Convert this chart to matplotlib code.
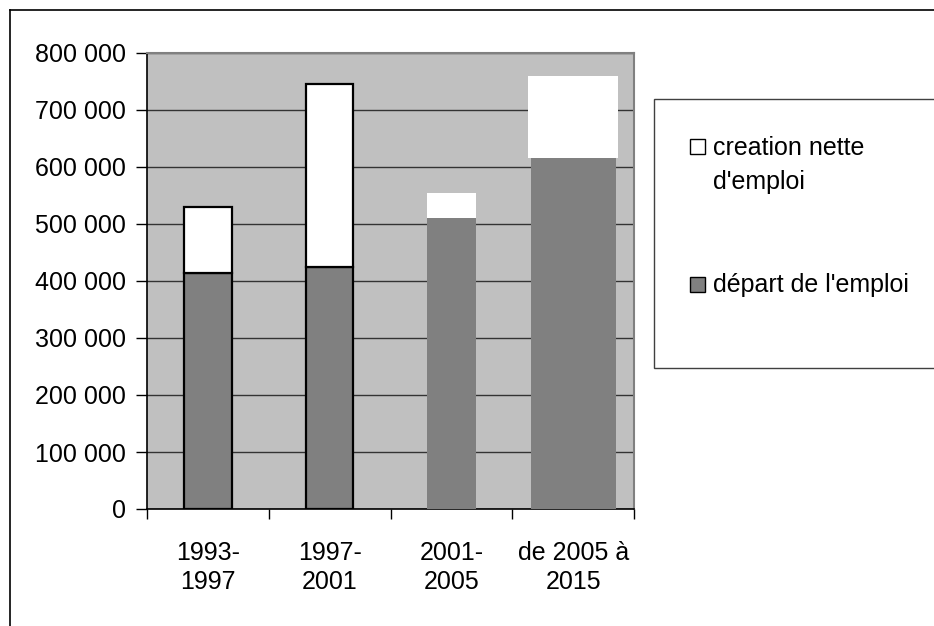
import matplotlib

matplotlib.use("Agg")
import matplotlib.pyplot as plt
from matplotlib.lines import Line2D
from matplotlib.patches import Rectangle

plt.rcParams["font.family"] = ["Liberation Sans", "DejaVu Sans"]

periods = ["1993-\n1997", "1997-\n2001", "2001-\n2005", "de 2005 à\n2015"]
depart = [414000, 425000, 510000, 616000]
creation = [116000, 320000, 44000, 144000]
series_labels = ["creation nette\nd'emploi", "départ de l'emploi"]
yticks = [0, 100000, 200000, 300000, 400000, 500000, 600000, 700000, 800000]

W, H = 934, 626
fig = plt.figure(figsize=(W / 100, H / 100), dpi=100)
ax = fig.add_axes([147 / W, 1 - 509 / H, (634 - 147) / W, (509 - 53) / H])


def px(x, y):
    return x / W, 1 - y / H


gray = "#808080"
# first two bars drawn with black outlines, last two without
widths_dep = [0.39, 0.39, 0.40, 0.70]
widths_cre = [0.39, 0.39, 0.40, 0.74]
edges = ["black", "black", "none", "none"]
x = list(range(len(periods)))
for i in x:
    lw = 1.6 if edges[i] != "none" else 0
    ax.bar(i, depart[i], width=widths_dep[i], color=gray, edgecolor=edges[i], linewidth=lw, zorder=3)
    ax.bar(i, creation[i], bottom=depart[i], width=widths_cre[i], color="white",
           edgecolor=edges[i], linewidth=lw, zorder=3)

ax.set_facecolor("#c0c0c0")
ax.set_xlim(-0.5, 3.5)
ax.set_ylim(0, 800000)
ax.set_yticks(yticks)
ax.set_yticklabels([f"{v:,}".replace(",", " ") for v in yticks])
ax.yaxis.grid(True, color="#333333", linewidth=1.0, zorder=1)
ax.set_axisbelow(True)

ax.set_xticks(x)
ax.set_xticklabels(periods, linespacing=1.25)
ax.set_xticks([-0.5, 0.5, 1.5, 2.5, 3.5], minor=True)
ax.tick_params(axis="x", which="major", length=0, pad=23, labelsize=18)
ax.tick_params(axis="x", which="minor", length=7, width=1, direction="out", color="black")
ax.tick_params(axis="y", length=8, width=1, direction="out", pad=7, labelsize=18)
for lbl in ax.get_xticklabels():
    lbl.set_horizontalalignment("center")

ax.spines["left"].set_color("black")
ax.spines["bottom"].set_color("black")
ax.spines["left"].set_linewidth(1.2)
ax.spines["bottom"].set_linewidth(1.2)
ax.spines["top"].set_color(gray)
ax.spines["right"].set_color(gray)
ax.spines["top"].set_linewidth(1.5)
ax.spines["right"].set_linewidth(1.5)

# outer chart border (runs off the right and bottom edges)
fig.add_artist(Line2D(*zip(px(10, 10), px(940, 10)), color="black", linewidth=1.2))
fig.add_artist(Line2D(*zip(px(10, 10), px(10, 630)), color="black", linewidth=1.2))

# legend box
x0, y0 = px(654, 368)
x1, y1 = px(940, 99)
fig.add_artist(Rectangle((x0, y0), x1 - x0, y1 - y0, transform=fig.transFigure,
                         facecolor="white", edgecolor="#404040", linewidth=1.0))
fills = ["white", gray]
sq_top = [139, 277]
text_base = [155, 292]
for lab, fc, st, tb in zip(series_labels, fills, sq_top, text_base):
    sx, sy = px(690, st + 15)
    fig.add_artist(Rectangle((sx, sy), 15 / W, 15 / H, transform=fig.transFigure,
                             facecolor=fc, edgecolor="black", linewidth=1.0))
    first, *rest = lab.split("\n")
    tx, ty = px(713, tb)
    fig.text(tx, ty, first, fontsize=18, va="baseline", ha="left")
    for k, line in enumerate(rest, start=1):
        tx, ty = px(713, tb + 34 * k)
        fig.text(tx, ty, line, fontsize=18, va="baseline", ha="left")

fig.savefig("out.png", dpi=100)
